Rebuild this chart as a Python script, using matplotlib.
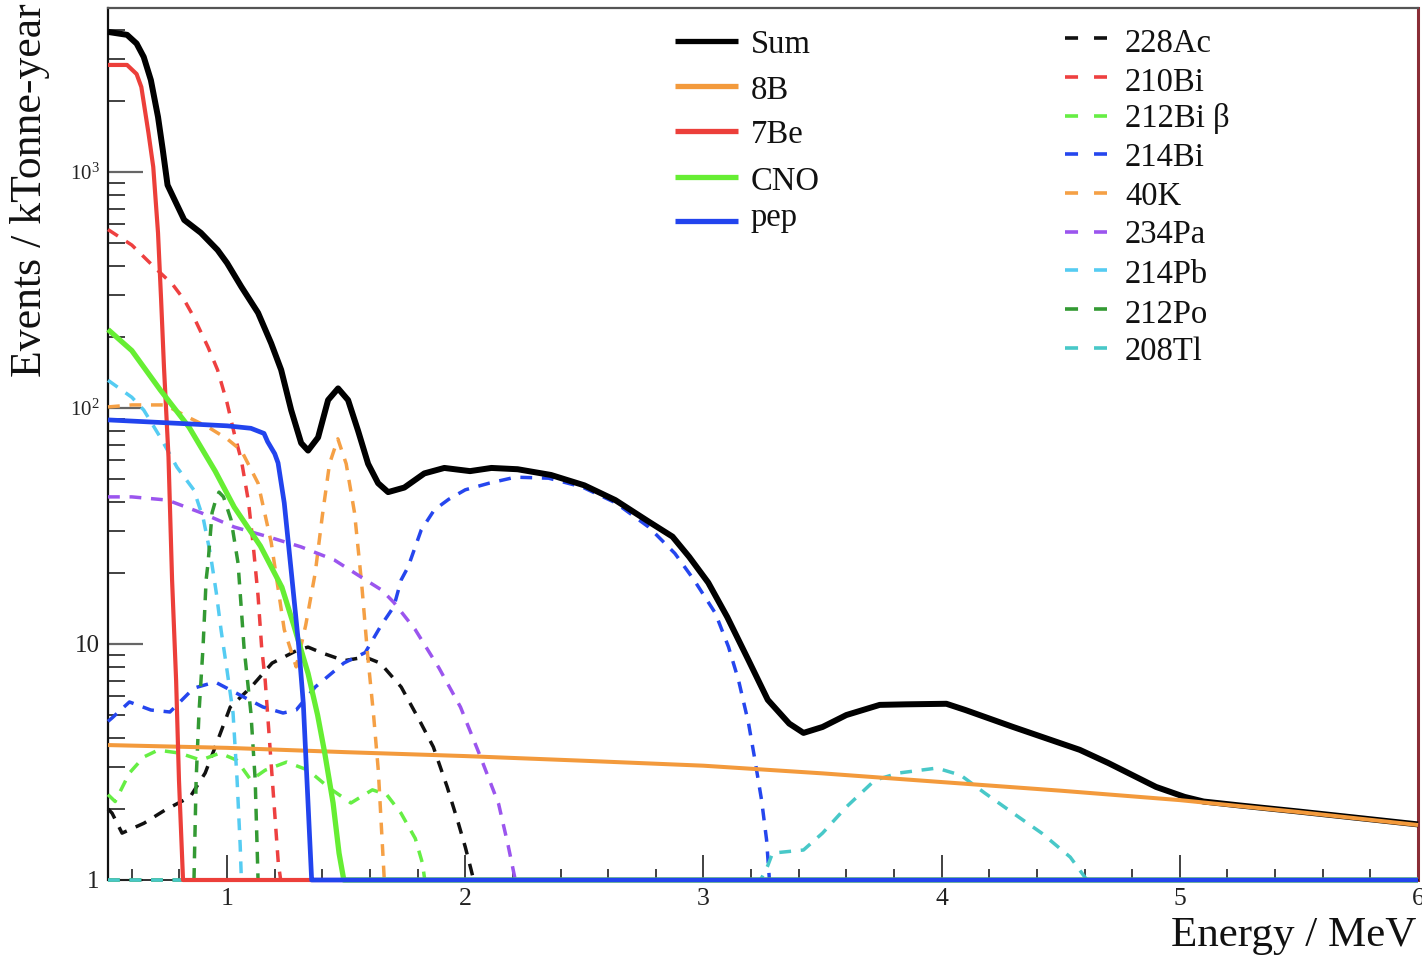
import numpy as np
import matplotlib
matplotlib.use('Agg')
import matplotlib.pyplot as plt
from matplotlib.lines import Line2D
from matplotlib.ticker import FixedLocator, FixedFormatter, NullFormatter

plt.rcParams['font.family'] = ['Liberation Serif', 'DejaVu Serif']
plt.rcParams['mathtext.fontset'] = 'custom'
plt.rcParams['mathtext.rm'] = 'Liberation Serif'
plt.rcParams['mathtext.it'] = 'Liberation Serif:italic'
plt.rcParams['lines.scale_dashes'] = False

# ---------------- data (Energy in MeV, Events / kTonne-year) ----------------
sum_E = [0.50, 0.58, 0.62, 0.65, 0.68, 0.71, 0.73, 0.75, 0.78, 0.82, 0.89, 0.96, 1.00, 1.06,
         1.13, 1.185, 1.227, 1.269, 1.311, 1.34, 1.382, 1.424, 1.466, 1.508, 1.55, 1.592,
         1.634, 1.676, 1.744, 1.828, 1.912, 2.02, 2.11, 2.22, 2.36, 2.50, 2.63, 2.77, 2.87,
         2.94, 3.02, 3.10, 3.19, 3.27, 3.36, 3.42, 3.50, 3.60, 3.74, 3.85, 4.02, 4.10, 4.30,
         4.58, 4.70, 4.90, 5.02, 5.10, 5.25, 5.50, 6.00]
sum_v = [3920, 3810, 3500, 3070, 2450, 1710, 1240, 880, 760, 626, 552, 467, 411, 326,
         253, 188, 145, 98, 71, 66, 75, 108, 121, 108, 80, 58,
         48, 44, 46, 52.8, 55.7, 54, 55.7, 55, 52, 47, 40.7, 33, 28.5,
         23.4, 18.2, 13.0, 8.5, 5.8, 4.6, 4.2, 4.45, 5.0, 5.52, 5.55, 5.58, 5.25, 4.45,
         3.56, 3.13, 2.48, 2.25, 2.15, 2.07, 1.95, 1.72]

b8_E = [0.5, 1.0, 1.5, 2.0, 2.5, 3.0, 3.5, 4.0, 4.5, 5.0, 5.5, 6.0]
b8_v = [3.73, 3.63, 3.48, 3.35, 3.20, 3.05, 2.83, 2.60, 2.39, 2.18, 1.94, 1.71]

be7_E = [0.50, 0.58, 0.62, 0.64, 0.67, 0.69, 0.71, 0.723, 0.735, 0.754, 0.769, 0.786, 0.798, 0.815, 0.82, 6.0]
be7_v = [2840, 2840, 2600, 2290, 1460, 1050, 552, 287, 149, 62, 18.7, 7.0, 2.65, 1.0, 0, 0]

cno_E = [0.50, 0.60, 0.72, 0.84, 0.95, 1.03, 1.14, 1.23, 1.28, 1.34, 1.38, 1.41, 1.445, 1.47, 1.49, 1.50, 6.0]
cno_v = [215, 175, 119, 83, 54, 38, 26, 17.4, 12, 7.5, 5.0, 3.45, 2.12, 1.3, 1.0, 0, 0]

pep_E = [0.50, 0.80, 1.00, 1.10, 1.155, 1.17, 1.20, 1.214, 1.24, 1.27, 1.30, 1.32, 1.34, 1.355, 1.36, 6.0]
pep_v = [89, 86, 84, 82, 78, 72, 64, 58.5, 39.6, 20, 10, 5.6, 2.1, 1.0, 0, 0]

ac228_E = [0.50, 0.517, 0.559, 0.651, 0.74, 0.845, 0.908, 0.95, 1.013, 1.101, 1.189, 1.294, 1.34,
           1.399, 1.492, 1.58, 1.643, 1.731, 1.807, 1.866, 1.924, 1.971, 2.0, 2.025, 2.035, 6.0]
ac228_v = [2.0, 1.92, 1.58, 1.74, 1.98, 2.25, 2.84, 3.66, 5.4, 6.57, 8.3, 9.4, 9.7,
           9.16, 8.5, 8.8, 8.3, 6.57, 4.76, 3.66, 2.48, 1.74, 1.38, 1.1, 0, 0]

bi210_E = [0.50, 0.60, 0.70, 0.77, 0.82, 0.86, 0.92, 0.96, 1.00, 1.03, 1.06, 1.09, 1.11, 1.13,
           1.145, 1.16, 1.19, 1.215, 1.225, 6.0]
bi210_v = [570, 490, 390, 335, 287, 243, 181, 145, 105, 78, 60, 40, 26, 16,
           9.7, 7.0, 2.65, 1.18, 0, 0]

bi212_E = [0.50, 0.53, 0.59, 0.65, 0.71, 0.80, 0.89, 0.97, 1.04, 1.10, 1.16, 1.25, 1.34, 1.43,
           1.52, 1.61, 1.67, 1.73, 1.79, 1.82, 1.83, 1.835, 6.0]
bi212_v = [2.3, 2.15, 2.84, 3.32, 3.55, 3.45, 3.22, 3.45, 3.22, 2.65, 2.92, 3.16, 2.92, 2.45,
           2.12, 2.41, 2.3, 1.92, 1.5, 1.18, 1.0, 0, 0]

bi214_E = [0.50, 0.517, 0.59, 0.68, 0.76, 0.86, 0.95, 1.07, 1.15, 1.235, 1.29, 1.37, 1.49, 1.58,
           1.647, 1.70, 1.731, 1.76, 1.815, 1.87, 1.93, 2.00, 2.10, 2.21, 2.35, 2.49, 2.63, 2.77,
           2.88, 2.96, 3.05, 3.105, 3.147, 3.189, 3.214, 3.244, 3.265, 3.277, 3.29, 6.0]
bi214_v = [4.7, 4.86, 5.68, 5.25, 5.15, 6.5, 6.9, 5.96, 5.41, 5.1, 5.25, 6.57, 8.3, 9.2,
           12, 14.4, 18.7, 21.2, 30.4, 37, 41, 45, 48, 50.9, 50.4, 46.3, 39.7, 31.3,
           24.2, 18.7, 13.5, 9.73, 7.04, 4.63, 3.32, 2.18, 1.48, 1.0, 0, 0]

k40_E = [0.50, 0.60, 0.74, 0.84, 0.92, 1.00, 1.06, 1.13, 1.185, 1.24, 1.29, 1.33, 1.37, 1.40,
         1.43, 1.465, 1.50, 1.535, 1.565, 1.59, 1.615, 1.635, 1.66, 1.665, 6.0]
k40_v = [101, 103, 103, 91, 83, 74, 66, 48, 27, 11.5, 8, 12, 20, 35,
         58, 74, 58, 36, 18, 9, 5, 2.9, 1.0, 0, 0]

pa234_E = [0.50, 0.60, 0.75, 0.89, 1.03, 1.17, 1.31, 1.45, 1.57, 1.65, 1.70, 1.79, 1.89, 1.98,
           2.06, 2.14, 2.18, 2.21, 2.215, 6.0]
pa234_v = [42, 42, 40.7, 36, 31.3, 28.5, 25.8, 22.7, 19, 16.9, 15, 11.5, 7.9, 5.4,
           3.4, 2.1, 1.4, 1.0, 0, 0]

pb214_E = [0.50, 0.60, 0.65, 0.72, 0.79, 0.86, 0.90, 0.93, 0.955, 0.975, 1.00, 1.025, 1.042,
           1.055, 1.06, 1.065, 6.0]
pb214_v = [131, 111, 98, 75, 56, 45, 34, 24, 16.4, 11.4, 7.7, 5.1, 2.65,
           1.4, 1.0, 0, 0]

po212_E = [0.50, 0.855, 0.861, 0.87, 0.882, 0.899, 0.912, 0.92, 0.937, 0.95, 0.966, 0.985, 1.017,
           1.046, 1.059, 1.071, 1.10, 1.118, 1.13, 1.135, 6.0]
po212_v = [0, 0, 1.0, 2.65, 5.1, 9.7, 18.7, 22, 36, 40, 44, 42, 33.5,
           22, 14.4, 9.7, 5.1, 2.65, 1.0, 0, 0]

tl208_E = [0.50, 3.24, 3.27, 3.29, 3.42, 3.50, 3.60, 3.72, 3.82, 3.98, 4.08, 4.18, 4.30, 4.42,
           4.54, 4.61, 6.0]
tl208_v = [0, 0, 1.15, 1.3, 1.34, 1.58, 2.04, 2.65, 2.84, 2.98, 2.78, 2.34, 1.92, 1.58,
           1.25, 1.0, 0]

solid_labels = ['Sum', '8B', '7Be', 'CNO', 'pep']
dashed_labels = ['228Ac', '210Bi', '212Bi β', '214Bi', '40K', '234Pa', '214Pb', '212Po', '208Tl']

x_major = [1, 2, 3, 4, 5, 6]
x_labels = ['1', '2', '3', '4', '5', '6']
y_major = [1, 10, 100, 1000]
y_labels = ['1', '10', r'$\mathregular{10^{2}}$', r'$\mathregular{10^{3}}$']

# ---------------- styles ----------------
W, H = 1422, 959
YMIN, YMAX = 1.0, 4950.0

dashed_series = [
    (ac228_E, ac228_v, '#111111'),
    (bi210_E, bi210_v, '#ee4040'),
    (bi212_E, bi212_v, '#66ee44'),
    (bi214_E, bi214_v, '#2546ee'),
    (k40_E, k40_v, '#f5a045'),
    (pa234_E, pa234_v, '#9b55ee'),
    (pb214_E, pb214_v, '#55ccf2'),
    (po212_E, po212_v, '#339a33'),
    (tl208_E, tl208_v, '#48c8c8'),
]
solid_series = [
    (sum_E, sum_v, '#000000', 4.3),
    (b8_E, b8_v, '#f39a3c', 2.9),
    (be7_E, be7_v, '#ec3f3a', 3.0),
    (cno_E, cno_v, '#66ee33', 3.8),
    (pep_E, pep_v, '#2244ee', 3.4),
]

fig = plt.figure(figsize=(W / 100, H / 100), dpi=100)
ax = fig.add_axes([108 / W, 1 - 880 / H, (1418 - 108) / W, (880 - 8) / H])
ax.set_yscale('log')
ax.set_xlim(0.5, 6.0)
ax.set_ylim(YMIN, YMAX)

for E, v, c in dashed_series:
    ax.plot(E, np.clip(v, YMIN, None), color=c, lw=2.5, dashes=(8.5, 7.0),
            dash_capstyle='butt', dash_joinstyle='round', clip_on=False, zorder=3)
for i, (E, v, c, lw) in enumerate(solid_series):
    ax.plot(E, np.clip(v, YMIN, None), color=c, lw=lw, solid_capstyle='butt',
            solid_joinstyle='round', clip_on=False, zorder=4 + i)

# spines
ax.spines['left'].set_color('#111111')
ax.spines['left'].set_linewidth(1.6)
ax.spines['top'].set_color('#555555')
ax.spines['top'].set_linewidth(1.6)
ax.spines['right'].set_color('#8a2d36')
ax.spines['right'].set_linewidth(2.2)
ax.spines['bottom'].set_color('#111111')
ax.spines['bottom'].set_linewidth(1.2)

# ticks
ax.xaxis.set_major_locator(FixedLocator(x_major))
ax.xaxis.set_major_formatter(FixedFormatter(x_labels))
ax.xaxis.set_minor_locator(FixedLocator(np.arange(0.6, 6.0, 0.2)))
ax.tick_params(axis='x', which='major', direction='in', length=18, width=1.3,
               color='#333333', pad=6, labelsize=18.5, labelcolor='#222222', top=False)
ax.tick_params(axis='x', which='minor', direction='in', length=8, width=1.3,
               color='#333333', top=False)

ax.yaxis.set_major_locator(FixedLocator(y_major))
ax.yaxis.set_major_formatter(FixedFormatter(y_labels))
y_minor = [m * 10 ** n for n in range(4) for m in range(2, 10) if m * 10 ** n < YMAX]
ax.yaxis.set_minor_locator(FixedLocator(y_minor))
ax.yaxis.set_minor_formatter(NullFormatter())
ax.tick_params(axis='y', which='major', direction='in', length=25, width=1.6,
               color='#666666', pad=6, labelsize=18, labelcolor='#222222', right=False)
ax.tick_params(axis='y', which='minor', direction='in', length=12, width=1.3,
               color='#333333', right=False)
for lbl in ax.get_yticklabels():
    if '^' in lbl.get_text():
        lbl.set_fontsize(15)

# axis titles
fig.text(30 / W, 1 - 3 / H, 'Events / kTonne-year', rotation=90, ha='center', va='top',
         fontsize=31.5, color='#111111')
fig.text(1416 / W, 1 - 936 / H, 'Energy / MeV', ha='right', va='center',
         fontsize=31, color='#111111')

# legend (left column: solid)
solid_line_y = [41, 86, 131, 177, 221]
solid_text_base = [53, 99, 143, 190, 226]
for (E, v, c, lw), lab, ly, ty in zip(solid_series, solid_labels, solid_line_y, solid_text_base):
    fig.add_artist(Line2D([675 / W, 738 / W], [1 - ly / H] * 2, color=c, lw=3.8,
                          solid_capstyle='butt', transform=fig.transFigure))
    fig.text(751 / W, 1 - ty / H, lab, ha='left', va='baseline', fontsize=23.5,
             color='#111111')

# legend (right column: dashed)
dash_line_y = [38, 77, 116, 154, 193, 232, 270, 309, 348]
dash_text_base = [52, 91, 127, 166, 205, 243, 283, 323, 360]
for (E, v, c), lab, ly, ty in zip(dashed_series, dashed_labels, dash_line_y, dash_text_base):
    fig.add_artist(Line2D([1065 / W, 1107 / W], [1 - ly / H] * 2, color=c, lw=2.6,
                          dashes=(9.4, 11.5), dash_capstyle='butt',
                          transform=fig.transFigure))
    fig.text(1125 / W, 1 - ty / H, lab, ha='left', va='baseline', fontsize=23.5,
             color='#111111')

fig.savefig('out.png', dpi=100)
